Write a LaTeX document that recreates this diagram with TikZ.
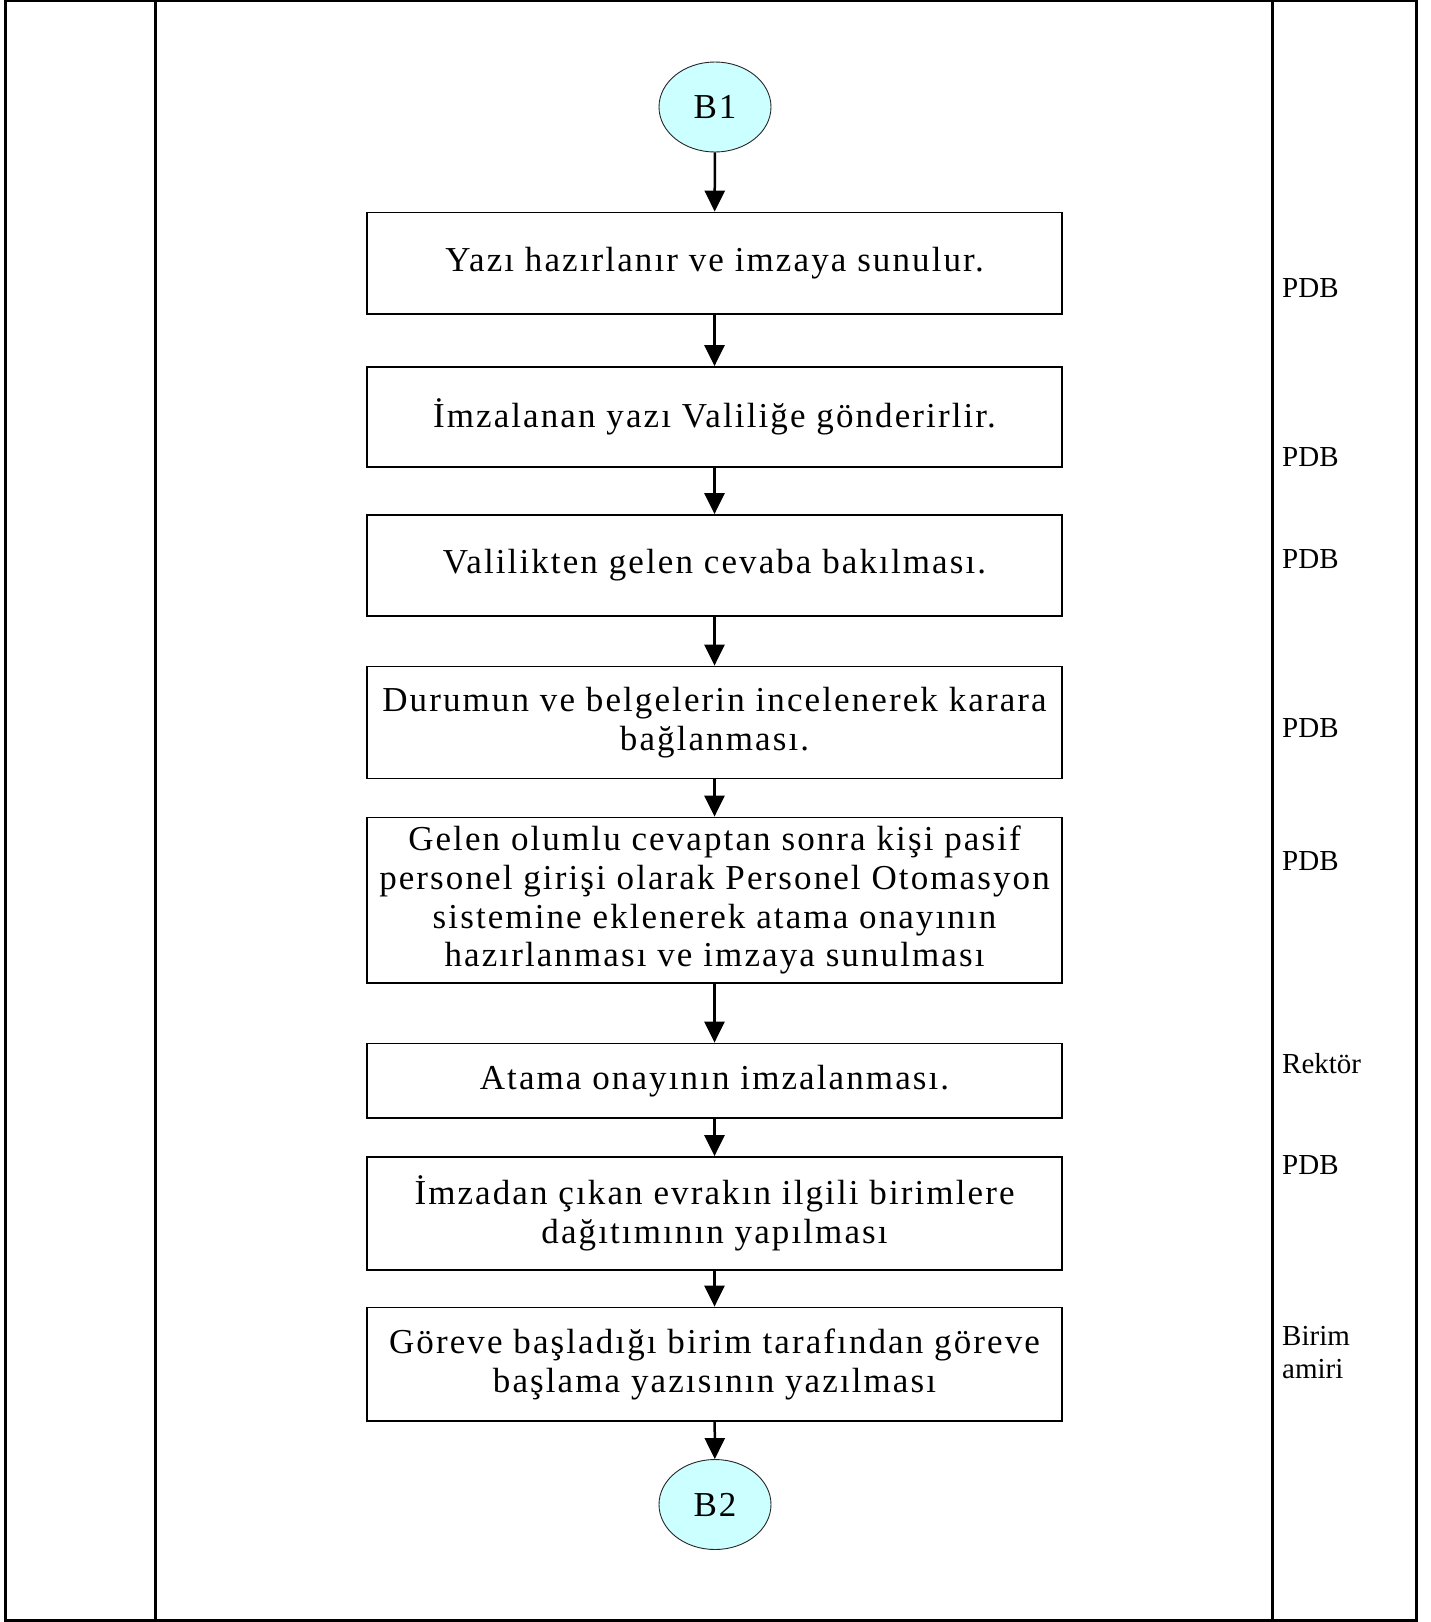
\documentclass[tikz,border=0pt]{standalone}
\usepackage{fontspec}
\setmainfont{Liberation Serif}
\newfontfamily\bxfont[LetterSpace=6]{Liberation Serif}
\usetikzlibrary{arrows.meta,shapes.geometric}
\definecolor{lcyan}{HTML}{CCFFFF}
\tikzset{
  frame/.style={line width=3pt, black},
  stepbox/.style={draw=black, line width=1.8pt, fill=white, minimum width=695pt, align=center,
    inner sep=0pt, font=\bxfont\fontsize{35}{38.6}\selectfont},
  conn/.style={ellipse, draw=black!85, line width=0.9pt, fill=lcyan, minimum width=112pt,
    minimum height=90pt, inner sep=0pt, font=\bxfont\fontsize{35}{38}\selectfont},
  flow/.style={-{Triangle[width=20pt,length=21pt]}, line width=2.5pt},
  lab/.style={anchor=base west, inner sep=0pt, font=\fontsize{29}{33}\selectfont, align=left}
}
\begin{document}
\begin{tikzpicture}[x=1pt,y=-1pt]
\useasboundingbox (0,0) rectangle (1431,1622);
% frame and columns
\draw[frame] (5.5,0.5) rectangle (1416,1620);
\draw[frame] (155.5,0.5) -- (155.5,1620);
\draw[frame] (1272,0.5) -- (1272,1620);

% nodes
\node[conn] (c1) at (715,107) {B1};
\node[stepbox, minimum height=101.5pt] (b1) at (714.5,263.25) {Yazı hazırlanır ve imzaya sunulur.};
\node[stepbox, minimum height=100pt] (b2) at (714.5,417) {İmzalanan yazı Valiliğe gönderirlir.};
\node[stepbox, minimum height=101pt] (b3) at (714.5,565.5) {Valilikten gelen cevaba bakılması.};
\node[stepbox, minimum height=112pt] (b4) at (714.5,722.5) {Durumun ve belgelerin incelenerek karara\\bağlanması.};
\node[stepbox, minimum height=165.5pt] (b5) at (714.5,900.25) {Gelen olumlu cevaptan sonra kişi pasif\\personel girişi olarak Personel Otomasyon\\sistemine eklenerek atama onayının\\hazırlanması ve imzaya sunulması};
\node[stepbox, minimum height=74.5pt] (b6) at (714.5,1080.75) {Atama onayının imzalanması.};
\node[stepbox, minimum height=113pt] (b7) at (714.5,1213.5) {İmzadan çıkan evrakın ilgili birimlere\\dağıtımının yapılması};
\node[stepbox, minimum height=113.5pt] (b8) at (714.5,1364.25) {Göreve başladığı birim tarafından göreve\\başlama yazısının yazılması};
\node[conn] (c2) at (715,1504.5) {B2};

% connectors
\draw[flow] (c1) -- (b1);
\draw[flow] (b1) -- (b2);
\draw[flow] (b2) -- (b3);
\draw[flow] (b3) -- (b4);
\draw[flow] (b4) -- (b5);
\draw[flow] (b5) -- (b6);
\draw[flow] (b6) -- (b7);
\draw[flow] (b7) -- (b8);
\draw[flow] (b8) -- (c2);

% responsible labels
\node[lab] (r1) at (1282,297) {PDB};
\node[lab] (r2) at (1282,466.5) {PDB};
\node[lab] (r3) at (1282,568) {PDB};
\node[lab] (r4) at (1282,737) {PDB};
\node[lab] (r5) at (1282,870.5) {PDB};
\node[lab] (r6) at (1282,1073) {Rektör};
\node[lab] (r7) at (1282,1174) {PDB};
\node[lab] (r8) at (1282,1378) {Birim\\amiri};
\end{tikzpicture}
\end{document}
